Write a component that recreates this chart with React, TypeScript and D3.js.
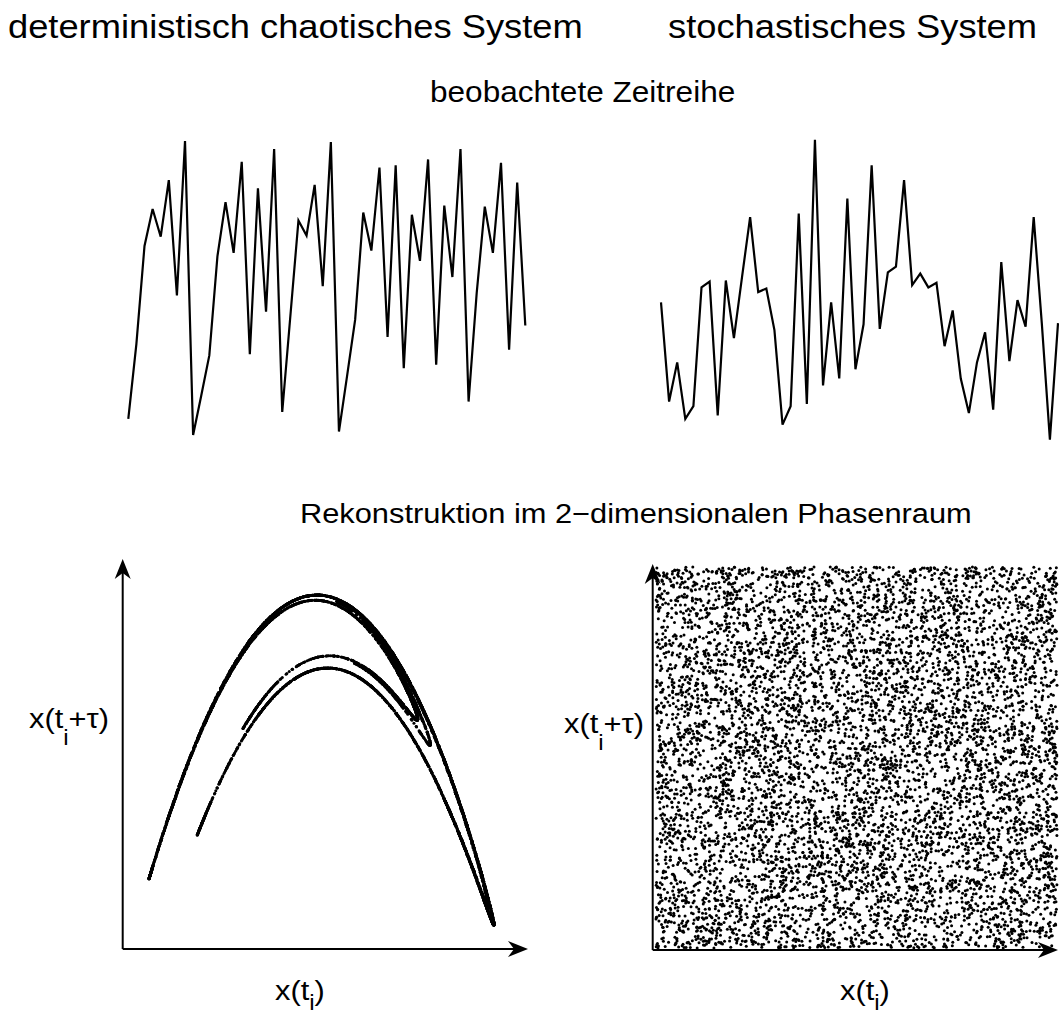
import React, { useMemo } from "react";
import * as d3 from "d3";

// Observed time series (50 samples each)
const chaoticSeries = [
  -1.14, -0.49, 0.36, 0.68, 0.44, 0.93, -0.07, 1.27, -1.28, -0.94,
  -0.59, 0.27, 0.74, 0.3, 1.09, -0.58, 0.86, -0.21, 1.2, -1.08,
  -0.25, 0.58, 0.45, 0.89, 0.01, 1.26, -1.25, -0.77, -0.28, 0.65,
  0.32, 1.04, -0.43, 1.06, -0.7, 0.63, 0.23, 1.11, -0.67, 0.71,
  0.09, 1.2, -0.99, -0.05, 0.7, 0.3, 1.08, -0.54, 0.91, -0.33,
];

const stochasticSeries = [
  -0.13, -0.99, -0.65, -1.14, -1.03, 0.0, 0.05, -1.11, 0.06, -0.44,
  0.09, 0.61, -0.04, -0.01, -0.37, -1.19, -1.03, 0.64, -1.01, 1.28,
  -0.85, -0.13, -0.79, 0.77, -0.71, -0.32, 1.06, -0.36, 0.13, 0.18,
  0.93, 0.02, 0.12, 0.0, 0.04, -0.51, -0.2, -0.79, -1.09, -0.65,
  -0.39, -1.06, 0.22, -0.64, -0.11, -0.34, 0.61, -0.31, -1.32, -0.31,
];

// Deterministic system: Hénon map x[n+1] = 1 - a x[n]^2 + b x[n-1]
const HENON_A = 1.4;
const HENON_B = 0.3;
const HENON_TRANSIENT = 200;
const HENON_POINTS = 6000;

// Stochastic system: white noise, delay-embedded
const NOISE_POINTS = 7500;
const NOISE_SEED = 0.4172;

const titleLeft = "deterministisch chaotisches System";
const titleRight = "stochastisches System";
const seriesHeading = "beobachtete Zeitreihe";
const phaseHeading = "Rekonstruktion im 2\u2212dimensionalen Phasenraum";

const FONT = "'Liberation Sans', Arial, Helvetica, sans-serif";
const STRETCH = 1.1;

function henonPairs(): [number, number][] {
  let prev = 0;
  let cur = 0;
  const xs: number[] = [];
  for (let n = 0; n < HENON_TRANSIENT + HENON_POINTS + 1; n++) {
    const next = 1 - HENON_A * cur * cur + HENON_B * prev;
    prev = cur;
    cur = next;
    if (n >= HENON_TRANSIENT) xs.push(cur);
  }
  const pairs: [number, number][] = [];
  for (let i = 0; i + 1 < xs.length; i++) pairs.push([xs[i], xs[i + 1]]);
  return pairs;
}

function noisePairs(): [number, number][] {
  const rnd = d3.randomUniform.source(d3.randomLcg(NOISE_SEED))(0, 1);
  const s: number[] = [];
  for (let i = 0; i < NOISE_POINTS + 1; i++) s.push(rnd());
  const pairs: [number, number][] = [];
  for (let i = 0; i + 1 < s.length; i++) pairs.push([s[i], s[i + 1]]);
  return pairs;
}

function Label({ x, y, size, children }: { x: number; y: number; size: number; children: React.ReactNode }) {
  return (
    <text
      transform={`translate(${x},${y}) scale(${STRETCH},1)`}
      fontFamily={FONT}
      fontSize={size}
      fill="#000"
    >
      {children}
    </text>
  );
}

function DelayLabel({ x, y, withTau, drop = 17 }: { x: number; y: number; withTau: boolean; drop?: number }) {
  return (
    <Label x={x} y={y} size={28}>
      x(t
      <tspan fontSize={22} dy={drop}>i</tspan>
      <tspan fontSize={28} dy={-drop}>{withTau ? "+\u03c4)" : ")"}</tspan>
    </Label>
  );
}

function Arrow({ x, y, dir }: { x: number; y: number; dir: "up" | "right" }) {
  const rot = dir === "up" ? -90 : 0;
  return (
    <path
      d="M0,0 L-20,-8 L-14,0 L-20,8 Z"
      transform={`translate(${x},${y}) rotate(${rot})`}
      fill="#000"
    />
  );
}

export default function App() {
  const attractor = useMemo(henonPairs, []);
  const noise = useMemo(noisePairs, []);

  // Time series scales
  const ySeries = d3.scaleLinear().domain([-1.28, 1.27]).range([435, 141]);
  const xLeft = d3.scaleLinear().domain([0, chaoticSeries.length - 1]).range([128.3, 525.3]);
  const xRight = d3.scaleLinear().domain([0, stochasticSeries.length - 1]).range([661, 1058]);
  const lineLeft = d3.line<number>().x((_, i) => xLeft(i)).y((d) => ySeries(d));
  const lineRight = d3.line<number>().x((_, i) => xRight(i)).y((d) => ySeries(d));

  // Phase space scales
  const ax = d3.extent(attractor, (d) => d[0]) as [number, number];
  const ay = d3.extent(attractor, (d) => d[1]) as [number, number];
  const xPhase = d3.scaleLinear().domain(ax).range([149, 494]);
  const yPhase = d3.scaleLinear().domain(ay).range([925, 595]);

  const xNoise = d3.scaleLinear().domain([0, 1]).range([656, 1057]);
  const yNoise = d3.scaleLinear().domain([0, 1]).range([948, 567]);

  return (
    <svg
      width={1059}
      height={1018}
      viewBox="0 0 1059 1018"
      style={{ position: "absolute", left: 0, top: 0, background: "#fff" }}
    >
      <rect width={1059} height={1018} fill="#fff" />

      <Label x={8} y={38} size={33}>{titleLeft}</Label>
      <Label x={668} y={38} size={33}>{titleRight}</Label>
      <Label x={430} y={102} size={28.7}>{seriesHeading}</Label>
      <Label x={300} y={523} size={28}>{phaseHeading}</Label>

      {/* observed time series */}
      <path d={lineLeft(chaoticSeries) || ""} fill="none" stroke="#000" strokeWidth={2.2} strokeLinejoin="miter" />
      <path d={lineRight(stochasticSeries) || ""} fill="none" stroke="#000" strokeWidth={2.2} strokeLinejoin="miter" />

      {/* deterministic phase space */}
      <line x1={122.7} y1={949} x2={122.7} y2={570} stroke="#000" strokeWidth={2} />
      <line x1={122.7} y1={949} x2={518} y2={949} stroke="#000" strokeWidth={2} />
      <Arrow x={122.7} y={559} dir="up" />
      <Arrow x={528} y={949} dir="right" />
      <g fill="#000">
        {attractor.map((d, i) => (
          <circle key={i} cx={xPhase(d[0])} cy={yPhase(d[1])} r={1.5} />
        ))}
      </g>
      <DelayLabel x={29} y={728} withTau={true} />
      <DelayLabel x={275} y={1000} withTau={false} drop={10} />

      {/* stochastic phase space */}
      <g fill="#000">
        {noise.map((d, i) => (
          <circle key={i} cx={xNoise(d[0])} cy={yNoise(d[1])} r={1.5} />
        ))}
      </g>
      <line x1={652.7} y1={950} x2={652.7} y2={575} stroke="#000" strokeWidth={2} />
      <line x1={652.7} y1={950} x2={1048} y2={950} stroke="#000" strokeWidth={2} />
      <Arrow x={652.7} y={564} dir="up" />
      <Arrow x={1058} y={950} dir="right" />
      <DelayLabel x={564} y={733} withTau={true} />
      <DelayLabel x={840} y={1000} withTau={false} drop={10} />
    </svg>
  );
}
